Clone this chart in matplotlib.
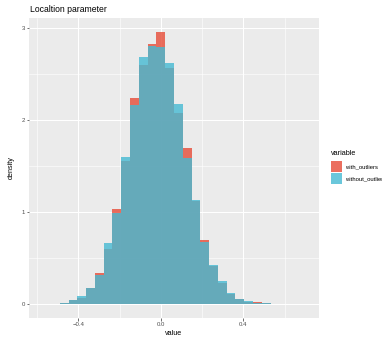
import numpy as np
import matplotlib
matplotlib.use("Agg")
import matplotlib.pyplot as plt
from matplotlib.patches import Patch

plt.rcParams["font.family"] = ["Liberation Sans", "DejaVu Sans"]

# histogram bins: 30 bins of equal width, bin index 0 is centred on 0.0
bin_width = 0.0426
bin_index = list(range(-13, 17))

# density per bin
with_outliers = [0.005, 0.005, 0.02, 0.045, 0.065, 0.174, 0.337, 0.60, 1.03, 1.555,
                 2.24, 2.60, 2.826, 2.957, 2.565, 2.08, 1.70, 1.12, 0.696, 0.413,
                 0.228, 0.109, 0.054, 0.025, 0.022, 0.011, 0.004, 0.004, 0.004, 0.004]
without_outliers = [0.005, 0.005, 0.01, 0.045, 0.087, 0.174, 0.315, 0.663, 0.99, 1.60,
                    2.16, 2.68, 2.80, 2.79, 2.62, 2.17, 1.59, 1.13, 0.674, 0.424,
                    0.25, 0.12, 0.054, 0.035, 0.011, 0.011, 0.004, 0.004, 0.004, 0.004]
series_names = ["with_outliers", "without_outliers"]
colors = ["#E74B37", "#45BAD3"]

x_ticks = [-0.4, 0.0, 0.4]
y_ticks = [0, 1, 2, 3]

W, H = 382, 338
fig = plt.figure(figsize=(W / 100, H / 100), dpi=100)
ax = fig.add_axes([29 / W, 1 - 318 / H, 290 / W, 300 / H])
ax.set_facecolor("#EBEBEB")
for s in ax.spines.values():
    s.set_visible(False)

centers = np.array(bin_index) * bin_width
for vals, col in zip([with_outliers, without_outliers], colors):
    ax.bar(centers, vals, width=bin_width, color=col, alpha=0.8, linewidth=0, zorder=3)

ax.set_xlim(-0.639, 0.767)
ax.set_ylim(-0.148, 3.105)
ax.set_xticks(x_ticks)
ax.set_xticklabels(["\u22120.4", "0.0", "0.4"])
ax.set_xticks([-0.6, -0.2, 0.2, 0.6], minor=True)
ax.set_yticks(y_ticks)
ax.set_yticklabels([str(t) for t in y_ticks])
ax.set_yticks([0.5, 1.5, 2.5], minor=True)
ax.grid(which="major", color="white", linewidth=0.75, zorder=0)
ax.grid(which="minor", color="white", linewidth=0.4, zorder=0)
ax.set_axisbelow(True)
ax.tick_params(which="major", length=1.8, width=0.5, color="#333333",
               labelsize=4.3, labelcolor="#4D4D4D", pad=1.2)
ax.tick_params(which="minor", length=0)

ax.set_xlabel("value", fontsize=5.2, labelpad=2)
ax.set_ylabel("density", fontsize=5.2, labelpad=4.5)
fig.text(30 / W, 1 - 10 / H, "Localtion parameter", fontsize=6.2, va="center", ha="left")

handles = [Patch(facecolor=c, alpha=0.8, linewidth=0) for c in colors]
leg = fig.legend(handles, series_names, loc="upper left",
                 bbox_to_anchor=(331 / W, 1 - 150 / H), frameon=False,
                 title="variable", title_fontsize=5.2, fontsize=4.2, alignment="left",
                 borderpad=0, borderaxespad=0, handlelength=1.95, handleheight=2.6,
                 labelspacing=0.1, handletextpad=0.5)
leg._legend_box.sep = 3

fig.savefig("out.png", dpi=100)
